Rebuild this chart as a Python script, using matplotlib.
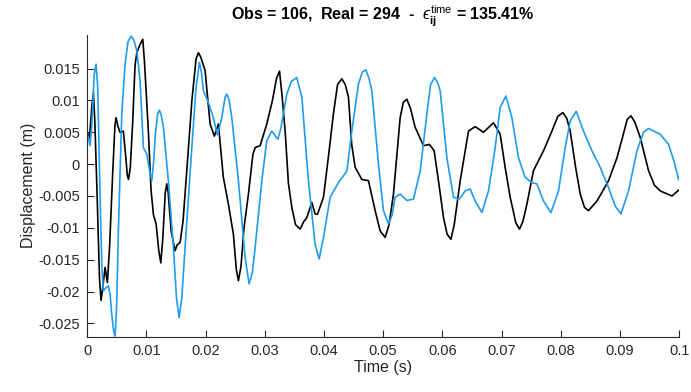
import matplotlib
matplotlib.use('Agg')
from matplotlib import pyplot as plt

plt.rcParams['font.family'] = ['Liberation Sans', 'DejaVu Sans']
plt.rcParams['mathtext.fontset'] = 'custom'
plt.rcParams['mathtext.rm'] = 'Liberation Sans'
plt.rcParams['mathtext.it'] = 'Liberation Sans:italic'
plt.rcParams['mathtext.bf'] = 'Liberation Sans:bold'
plt.rcParams['mathtext.fallback'] = 'stixsans'
plt.rcParams['axes.unicode_minus'] = False

# observed record (black)
t_obs = [0.0, 0.0004, 0.0008, 0.00106, 0.0013, 0.0017, 0.0021, 0.00236, 0.0027, 0.00304,
         0.00343, 0.0038, 0.0043, 0.0047, 0.0049, 0.0052, 0.00557, 0.00613, 0.0065, 0.0068,
         0.0070, 0.0073, 0.0077, 0.0081, 0.0084, 0.00895, 0.00941, 0.0097, 0.01035, 0.0108,
         0.0112, 0.01166, 0.0121, 0.01245, 0.0128, 0.0132, 0.01346, 0.0137, 0.0142, 0.01486,
         0.0152, 0.01571, 0.0162, 0.0170, 0.0177, 0.0184, 0.0188, 0.0192, 0.01993, 0.02078,
         0.0215, 0.02218, 0.0230, 0.02387, 0.02471, 0.0252, 0.02556, 0.0260, 0.0265, 0.02725,
         0.0280, 0.02838, 0.02922, 0.03035, 0.0313, 0.0320, 0.0325, 0.0329, 0.03345, 0.0340,
         0.03458, 0.0352, 0.03598, 0.0366, 0.03711, 0.03796, 0.0385, 0.0389, 0.03992, 0.0408,
         0.0416, 0.0423, 0.04302, 0.0436, 0.04414, 0.0447, 0.04527, 0.0464, 0.04752, 0.04865,
         0.0495, 0.05034, 0.0510, 0.05174, 0.05287, 0.0534, 0.0540, 0.0546, 0.0554, 0.05681,
         0.05782, 0.05861, 0.0594, 0.06019, 0.0608, 0.06144, 0.0620, 0.06301, 0.06441, 0.06554,
         0.06694, 0.06863, 0.06976, 0.0706, 0.07145, 0.0724, 0.07302, 0.0736, 0.07427, 0.07539,
         0.07708, 0.0785, 0.0795, 0.08035, 0.0810, 0.08159, 0.0825, 0.08328, 0.0840, 0.08468,
         0.0861, 0.08806, 0.08948, 0.0905, 0.0912, 0.09184, 0.0925, 0.09341, 0.09481, 0.0958,
         0.09679, 0.09877, 0.09988]
u_obs = [0.0052, 0.0041, 0.0090, 0.0112, 0.0070, -0.0050, -0.0180, -0.0214, -0.0190, -0.0162,
         -0.0186, -0.0130, -0.0020, 0.0060, 0.0073, 0.0060, 0.0050, 0.0052, 0.0015, -0.0018,
         -0.0024, -0.0005, 0.0065, 0.0155, 0.0175, 0.0188, 0.0196, 0.0160, 0.0052, -0.0040,
         -0.0079, -0.0094, -0.0135, -0.0155, -0.0115, -0.0045, -0.0031, -0.0045, -0.0105, -0.0136,
         -0.0127, -0.0123, -0.0090, 0.0010, 0.0100, 0.0165, 0.0175, 0.0168, 0.0147, 0.0063,
         0.0044, 0.0063, -0.0020, -0.0063, -0.0110, -0.0165, -0.0183, -0.0160, -0.0100, -0.0047,
         0.0015, 0.0026, 0.0029, 0.0063, 0.0100, 0.0135, 0.0146, 0.0110, 0.0052, -0.0030,
         -0.0068, -0.0095, -0.0102, -0.0090, -0.0084, -0.0060, -0.0078, -0.0079, -0.0052, 0.0015,
         0.0079, 0.0125, 0.0134, 0.0125, 0.0105, 0.0030, -0.0005, -0.0024, -0.0026, -0.0073,
         -0.0105, -0.0115, -0.0095, -0.0047, 0.0073, 0.0097, 0.0102, 0.0088, 0.0058, 0.0029,
         0.0031, 0.0021, -0.0030, -0.0084, -0.0110, -0.0118, -0.0095, -0.0026, 0.0052, 0.0059,
         0.0050, 0.0065, 0.0047, -0.0005, -0.0052, -0.0092, -0.0102, -0.0090, -0.0063, -0.0010,
         0.0021, 0.0052, 0.0075, 0.0081, 0.0072, 0.0052, -0.0005, -0.0047, -0.0068, -0.0073,
         -0.0058, -0.0026, 0.0010, 0.0045, 0.0070, 0.0076, 0.0066, 0.0042, -0.0010, -0.0033,
         -0.0042, -0.0050, -0.0041]

# realisation (blue)
t_real = [0.0, 0.0003, 0.00051, 0.0008, 0.0012, 0.00152, 0.0018, 0.0022, 0.0025, 0.00275,
          0.0031, 0.0036, 0.0039, 0.00417, 0.0045, 0.00473, 0.0050, 0.00529, 0.00586, 0.00642,
          0.0069, 0.00743, 0.0079, 0.0084, 0.00895, 0.00951, 0.01008, 0.0106, 0.01093, 0.0113,
          0.01149, 0.0119, 0.01221, 0.0125, 0.01289, 0.01373, 0.01458, 0.0151, 0.01554, 0.0160,
          0.01655, 0.01769, 0.0184, 0.01897, 0.0193, 0.01965, 0.02049, 0.02133, 0.02201, 0.02275,
          0.0233, 0.0236, 0.0240, 0.02444, 0.02556, 0.02669, 0.02736, 0.0279, 0.02838, 0.02951,
          0.03035, 0.0312, 0.03221, 0.0327, 0.03373, 0.0345, 0.03542, 0.03627, 0.03738, 0.03851,
          0.03919, 0.03992, 0.04105, 0.04245, 0.04387, 0.04471, 0.04583, 0.0465, 0.04708, 0.0476,
          0.04809, 0.04921, 0.05005, 0.0509, 0.0515, 0.05203, 0.05287, 0.0540, 0.05512, 0.05625,
          0.05738, 0.0580, 0.05867, 0.0592, 0.05963, 0.06076, 0.06188, 0.06284, 0.06385, 0.0647,
          0.06554, 0.06667, 0.06779, 0.06892, 0.06976, 0.07073, 0.07174, 0.07285, 0.07399, 0.07512,
          0.07596, 0.07708, 0.07833, 0.07961, 0.08074, 0.08159, 0.0826, 0.08383, 0.08525, 0.08666,
          0.08806, 0.08919, 0.09015, 0.09144, 0.09285, 0.09397, 0.09481, 0.09679, 0.09819, 0.0991,
          0.09988]
u_real = [0.0050, 0.0038, 0.0029, 0.0060, 0.0140, 0.0157, 0.0120, -0.0052, -0.0160, -0.0199,
          -0.0195, -0.0191, -0.0205, -0.0236, -0.0263, -0.0270, -0.0220, -0.0105, 0.0079, 0.0157,
          0.0192, 0.0201, 0.0195, 0.0178, 0.0131, 0.0026, 0.0016, -0.0012, -0.0026, 0.0010,
          0.0042, 0.0078, 0.0085, 0.0078, 0.0058, -0.0026, -0.0131, -0.0210, -0.0241, -0.0210,
          -0.0131, 0.0026, 0.0120, 0.0160, 0.0145, 0.0115, 0.0097, 0.0073, 0.0046, 0.0073,
          0.0105, 0.0110, 0.0100, 0.0073, -0.0026, -0.0147, -0.0188, -0.0170, -0.0131, -0.0026,
          0.0037, 0.0052, 0.0039, 0.0055, 0.0110, 0.0130, 0.0136, 0.0105, -0.0026, -0.0126,
          -0.0149, -0.0115, -0.0052, -0.0029, -0.0011, 0.0052, 0.0126, 0.0145, 0.0148, 0.0135,
          0.0115, 0.0, -0.0073, -0.0094, -0.0080, -0.0052, -0.0047, -0.0057, -0.0055, -0.0011,
          0.0079, 0.0125, 0.0136, 0.0128, 0.0115, 0.0010, -0.0052, -0.0055, -0.0042, -0.0039,
          -0.0058, -0.0076, -0.0042, 0.0026, 0.0089, 0.0107, 0.0073, 0.0010, -0.0021, -0.0029,
          -0.0031, -0.0058, -0.0076, -0.0042, 0.0026, 0.0068, 0.0083, 0.0052, 0.0021, -0.0005,
          -0.0037, -0.0066, -0.0078, -0.0042, 0.0021, 0.0050, 0.0056, 0.0047, 0.0031, 0.0005,
          -0.0024]

obs, real, err = 106, 294, 135.41

xticks = [0, 0.01, 0.02, 0.03, 0.04, 0.05, 0.06, 0.07, 0.08, 0.09, 0.1]
xticklabels = ['0', '0.01', '0.02', '0.03', '0.04', '0.05', '0.06', '0.07', '0.08', '0.09', '0.1']
yticks = [-0.025, -0.02, -0.015, -0.01, -0.005, 0, 0.005, 0.01, 0.015]
yticklabels = ['-0.025', '-0.02', '-0.015', '-0.01', '-0.005', '0', '0.005', '0.01', '0.015']

fig = plt.figure(figsize=(6.91, 3.92), dpi=100)
ax = fig.add_axes([0.126, 0.141, 0.857, 0.770])
ax.plot(t_obs, u_obs, color='black', lw=1.2)
ax.plot(t_real, u_real, color='#1f9cf0', lw=1.2)

ax.set_xlim(0, 0.1)
ax.set_ylim(-0.0271, 0.0203)
ax.set_xticks(xticks)
ax.set_xticklabels(xticklabels)
ax.set_yticks(yticks)
ax.set_yticklabels(yticklabels)
for s in ['top', 'right']:
    ax.spines[s].set_visible(False)
for s in ['left', 'bottom']:
    ax.spines[s].set_color('#262626')
    ax.spines[s].set_linewidth(0.8)
ax.tick_params(direction='in', length=5, width=0.8, colors='#262626', labelsize=10.5, pad=5)

ax.set_xlabel('Time (s)', fontsize=11.5, color='#262626', labelpad=2)
ax.set_ylabel('Displacement (m)', fontsize=11.5, color='#262626', labelpad=2)
ax.set_title('Obs = %d,  Real = %d  -  $\u03f5^{\\mathrm{time}}_{\\mathbf{ij}}$ = %.2f%%' % (obs, real, err),
             fontsize=11.5, fontweight='bold', pad=10)

fig.savefig('out.png', dpi=100)
